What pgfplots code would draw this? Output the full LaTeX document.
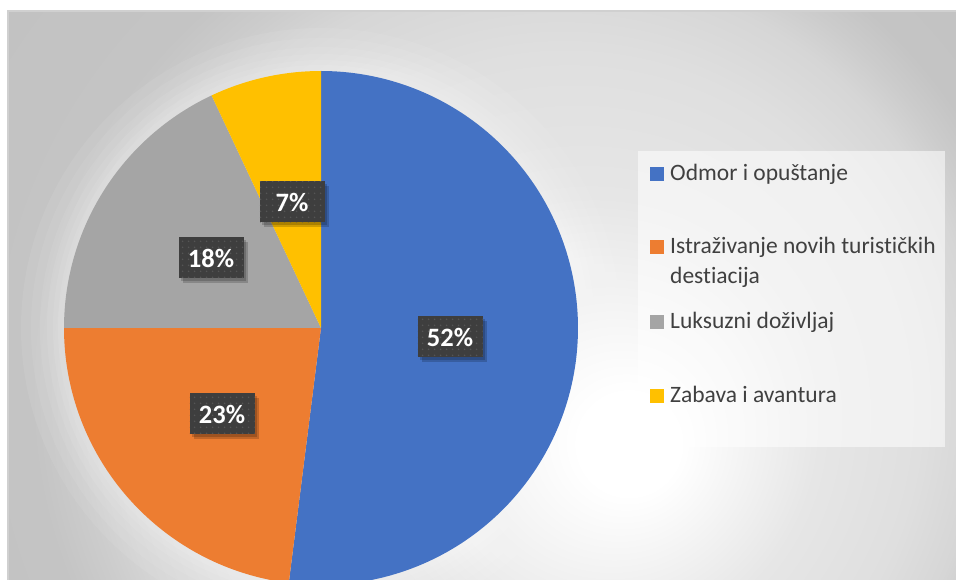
\documentclass[border=0pt]{standalone}
\usepackage{pgfplots}
\pgfplotsset{compat=1.18}
\usepackage{pgfplotstable}
\usepackage{fontspec}
\setmainfont{Carlito}[Ligatures=NoCommon]
\usetikzlibrary{patterns.meta}

\definecolor{pieblue}{HTML}{4472C4}
\definecolor{pieorange}{HTML}{ED7D31}
\definecolor{piegray}{HTML}{A5A5A5}
\definecolor{pieyellow}{HTML}{FFC000}
\definecolor{txt}{HTML}{404040}
\definecolor{lblbg}{HTML}{3E3E3E}
\definecolor{lbldot}{HTML}{555555}
\definecolor{bgA}{HTML}{E6E6E6}
\definecolor{bgB}{HTML}{DFDFDF}
\definecolor{bgC}{HTML}{D6D6D6}
\definecolor{bgD}{HTML}{CCCCCC}
\definecolor{bgE}{HTML}{C4C4C4}
\definecolor{bgF}{HTML}{C2C2C2}
\definecolor{frame}{HTML}{D0D0D0}

\pgfdeclareradialshading{bgshade}{\pgfpoint{10.3bp}{-5.95bp}}{%
  color(0bp)=(white); color(2bp)=(white); color(9bp)=(bgA);
  color(14bp)=(bgB); color(17bp)=(bgC); color(18.5bp)=(bgD);
  color(20bp)=(bgE); color(25bp)=(bgF); color(50bp)=(bgF)}

\tikzdeclarepattern{
  name=lbldots,
  type=uncolored,
  bounding box={(0,0) and (6bp,6bp)},
  tile size={(6bp,6bp)},
  code={\fill (3bp,3bp) circle (1bp);}
}

\pgfplotstableread{
label value
Odmor 52
Istrazivanje 23
Luksuzni 18
Zabava 7
}\piedata
\pgfplotstablegetelem{0}{value}\of\piedata \pgfmathsetmacro\vA{\pgfplotsretval}
\pgfplotstablegetelem{1}{value}\of\piedata \pgfmathsetmacro\vB{\pgfplotsretval}
\pgfplotstablegetelem{2}{value}\of\piedata \pgfmathsetmacro\vC{\pgfplotsretval}
\pgfplotstablegetelem{3}{value}\of\piedata \pgfmathsetmacro\vD{\pgfplotsretval}
\pgfmathsetmacro\aA{90-3.6*\vA}
\pgfmathsetmacro\aB{\aA-3.6*\vB}
\pgfmathsetmacro\aC{\aB-3.6*\vC}
\pgfmathsetmacro\aD{\aC-3.6*\vD}

\tikzset{
  lbl/.style={fill=lblbg, text=white, inner sep=0pt,
    minimum width=65bp, minimum height=41bp,
    font=\fontsize{26.5bp}{30bp}\selectfont\bfseries,
    preaction={fill=black, opacity=0.18, transform canvas={xshift=4bp,yshift=-5bp}},
    preaction={fill=black, opacity=0.18, transform canvas={xshift=2.5bp,yshift=-3bp}},
    postaction={pattern=lbldots, pattern color=lbldot}},
  leg/.style={anchor=base west, inner sep=0pt, text=txt,
    font=\fontsize{23.5bp}{28bp}\selectfont}
}

\begin{document}
\begin{tikzpicture}
\begin{axis}[
  hide axis, x=1bp, y=1bp,
  xmin=0, xmax=956, ymin=0, ymax=580,
  clip=true,
]
\coordinate (BL) at (0,0);
\coordinate (TR) at (956,580);
% background
\begin{scope}
  \clip (8,0) rectangle (956,569);
  \shade[shading=bgshade] (-251,-351) rectangle (1011,911);
\end{scope}
\fill[frame] (7,0) rectangle (9,569);
\fill[frame] (7,568) rectangle (956,570);
% halo around pie
\fill[white, opacity=0.07] (321,252) circle[radius=300];
\fill[white, opacity=0.07] (321,252) circle[radius=290];
\fill[white, opacity=0.07] (321,252) circle[radius=281];
\fill[white, opacity=0.08] (321,252) circle[radius=274];
\fill[white, opacity=0.08] (321,252) circle[radius=268];
\fill[white, opacity=0.08] (321,252) circle[radius=263];
% pie slices
\addplot[draw=none, fill=pieblue, domain=\aA:90, samples=150, variable=\t]
  ({321+257*cos(\t)},{252+257*sin(\t)}) -- (321,252) -- cycle;
\addplot[draw=none, fill=pieorange, domain=\aB:\aA, samples=80, variable=\t]
  ({321+257*cos(\t)},{252+257*sin(\t)}) -- (321,252) -- cycle;
\addplot[draw=none, fill=piegray, domain=\aC:\aB, samples=70, variable=\t]
  ({321+257*cos(\t)},{252+257*sin(\t)}) -- (321,252) -- cycle;
\addplot[draw=none, fill=pieyellow, domain=\aD:\aC, samples=40, variable=\t]
  ({321+257*cos(\t)},{252+257*sin(\t)}) -- (321,252) -- cycle;
% data labels
\node[lbl] at (450,243) {52\%};
\node[lbl] at (222,166) {23\%};
\node[lbl] at (211,322) {18\%};
\node[lbl] at (292,378) {7\%};
% legend
\fill[white, opacity=0.55] (638,133) rectangle (945,429);
\fill[pieblue]   (650,399) rectangle (664,413);
\fill[pieorange] (650,326) rectangle (664,340);
\fill[piegray]   (650,251) rectangle (664,265);
\fill[pieyellow] (650,177) rectangle (664,191);
\node[leg] at (670,399) {Odmor i opuštanje};
\node[leg] at (670,326) {Istraživanje novih turističkih};
\node[leg] at (670,296) {destiacija};
\node[leg] at (670,251) {Luksuzni doživljaj};
\node[leg] at (670,177) {Zabava i avantura};
\end{axis}
\pgfresetboundingbox
\useasboundingbox (BL) rectangle (TR);
\end{tikzpicture}
\end{document}
